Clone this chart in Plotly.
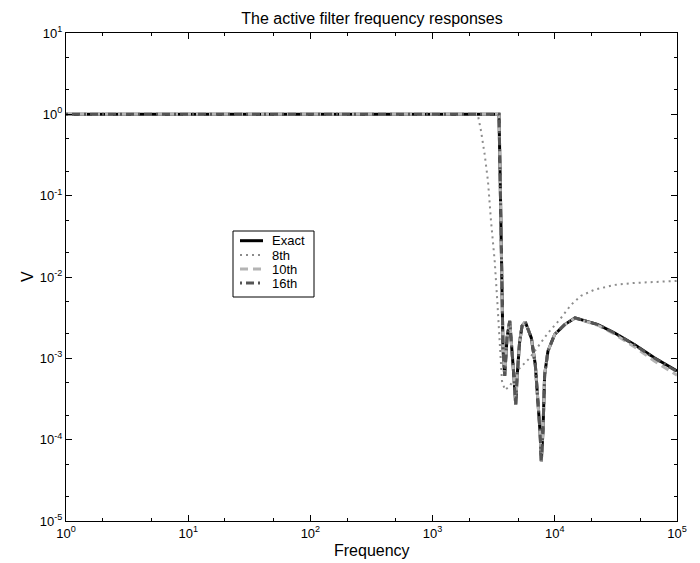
import plotly.graph_objects as go

# ---- data ----
freq_exact = [1, 100, 1000, 3000, 3400, 3493, 3560, 3630, 3700, 3767, 3890,
              4064, 4276, 4467, 4635, 4786, 4909, 5143, 5393, 5737,
              6427, 6925, 7290, 7567, 7755, 8000, 8260, 8790, 9970, 12040,
              14630, 22560, 30930, 45080, 65700, 100000]
v_exact = [1, 1, 1, 1, 1, 1.0, 0.22, 0.030, 0.0042, 0.00134, 0.00061,
           0.00178, 0.00288, 0.00134, 0.00058, 0.000269, 0.00058, 0.00154, 0.0025, 0.0028,
           0.00178, 0.000836, 0.000326, 0.000128, 0.0000542, 0.000127, 0.00063, 0.00123, 0.00196, 0.0026,
           0.00314, 0.0026, 0.00205, 0.00147, 0.00101, 0.00070]

freq_8 = [1, 100, 1000, 2266, 2354, 2489, 2669, 2838, 3005, 3222, 3383, 3540,
          3697, 3911, 4297, 5000, 6237, 8790, 10970, 13570, 16380, 21200,
          30900, 45070, 65700, 100000]
v_8 = [1, 1, 1, 1, 0.96, 0.627, 0.32, 0.152, 0.049, 0.0158, 0.00508, 0.00134,
       0.000527, 0.000408, 0.000458, 0.00072, 0.00101, 0.00205, 0.00299, 0.00454, 0.00586, 0.0070,
       0.0080, 0.00846, 0.0087, 0.00895]

freq_10 = freq_exact
v_10 = [1, 1, 1, 1, 1, 1.0, 0.22, 0.030, 0.0042, 0.00134, 0.00061,
        0.00178, 0.00288, 0.00134, 0.00058, 0.000269, 0.00058, 0.00154, 0.0025, 0.0028,
        0.00178, 0.000836, 0.000326, 0.000128, 0.0000542, 0.000127, 0.00063, 0.00123, 0.00196, 0.0026,
        0.00312, 0.00255, 0.00198, 0.00138, 0.00092, 0.00062]

freq_16 = freq_exact
v_16 = [1, 1, 1, 1, 1, 1.0, 0.22, 0.030, 0.0042, 0.00134, 0.00061,
        0.00178, 0.00288, 0.00134, 0.00058, 0.000269, 0.00058, 0.00154, 0.0025, 0.0028,
        0.00178, 0.000836, 0.000326, 0.000128, 0.0000542, 0.000127, 0.00063, 0.00123, 0.00196, 0.0026,
        0.00314, 0.0026, 0.00204, 0.00146, 0.00100, 0.00069]

series_names = ["Exact", "8th", "10th", "16th"]

x_tickvals = [1, 10, 100, 1000, 10000, 100000]
x_ticktext = ["10<sup>0</sup>", "10<sup>1</sup>", "10<sup>2</sup>", "10<sup>3</sup>",
              "10<sup>4</sup>", "10<sup>5</sup>"]
y_tickvals = [1e-5, 1e-4, 1e-3, 1e-2, 1e-1, 1, 10]
y_ticktext = ["10<sup>-5</sup>", "10<sup>-4</sup>", "10<sup>-3</sup>", "10<sup>-2</sup>",
              "10<sup>-1</sup>", "10<sup>0</sup>", "10<sup>1</sup>"]

styles = [
    dict(color="black", width=3, dash="solid"),
    dict(color="#8c8c8c", width=2, dash="2px,4px"),
    dict(color="#b4b4b4", width=3, dash="8px,5px"),
    dict(color="#555555", width=3, dash="2px,4px,8px,4px"),
]

fig = go.Figure()
for name, xs, ys, st in zip(series_names,
                            [freq_exact, freq_8, freq_10, freq_16],
                            [v_exact, v_8, v_10, v_16], styles):
    fig.add_trace(go.Scatter(x=xs, y=ys, mode="lines", name=name, line=st,
                             showlegend=False))

font_family = "Liberation Sans, Arial, sans-serif"
axis_common = dict(showgrid=False, zeroline=False, showline=True, linecolor="black",
                   linewidth=1, mirror="allticks", ticks="inside", ticklen=6,
                   tickcolor="black", tickfont=dict(size=13, color="black"),
                   minor=dict(ticks="inside", ticklen=3, tickcolor="black", showgrid=False))

fig.update_xaxes(type="log", range=[0, 5], tickvals=x_tickvals, ticktext=x_ticktext,
                 **axis_common)
fig.update_yaxes(type="log", range=[-5, 1], tickvals=y_tickvals, ticktext=y_ticktext,
                 **axis_common)

# plot area in pixels: x 58..669, y 25..513
L, R, T, B = 58, 669, 25, 513
def px(xp):
    return (xp - L) / (R - L)
def py(yp):
    return (B - yp) / (B - T)

shapes = []
annotations = []
# legend box
shapes.append(dict(type="rect", xref="paper", yref="paper",
                   x0=px(225), x1=px(306), y0=py(289), y1=py(223),
                   line=dict(color="black", width=1), fillcolor="white", layer="above"))
row_y = [232.7, 247, 261, 275]
for name, st, ry in zip(series_names, styles, row_y):
    shapes.append(dict(type="line", xref="paper", yref="paper",
                       x0=px(232), x1=px(255), y0=py(ry), y1=py(ry),
                       line=dict(color=st["color"], width=st["width"], dash=st["dash"]),
                       layer="above"))
    annotations.append(dict(text=name, xref="paper", yref="paper", x=px(262), y=py(ry),
                            xanchor="left", yanchor="middle", showarrow=False,
                            font=dict(size=13, color="black")))

annotations.append(dict(text="Frequency", xref="paper", yref="paper", x=0.5, y=py(542),
                        xanchor="center", yanchor="middle", showarrow=False,
                        font=dict(size=16, color="black")))
annotations.append(dict(text="V", xref="paper", yref="paper", x=px(19), y=py(269),
                        xanchor="center", yanchor="middle", showarrow=False, textangle=-90,
                        font=dict(size=16, color="black")))

fig.update_layout(
    width=700, height=563,
    margin=dict(l=L, r=700 - R, t=T, b=563 - B),
    paper_bgcolor="white", plot_bgcolor="white",
    font=dict(family=font_family, color="black"),
    title=dict(text="The active filter frequency responses", x=px(364), xref="paper",
               xanchor="center", y=1 - 10 / 563, yref="container", yanchor="middle",
               font=dict(size=16, color="black")),
    shapes=shapes, annotations=annotations,
    showlegend=False,
)

fig.write_html("out.html")
